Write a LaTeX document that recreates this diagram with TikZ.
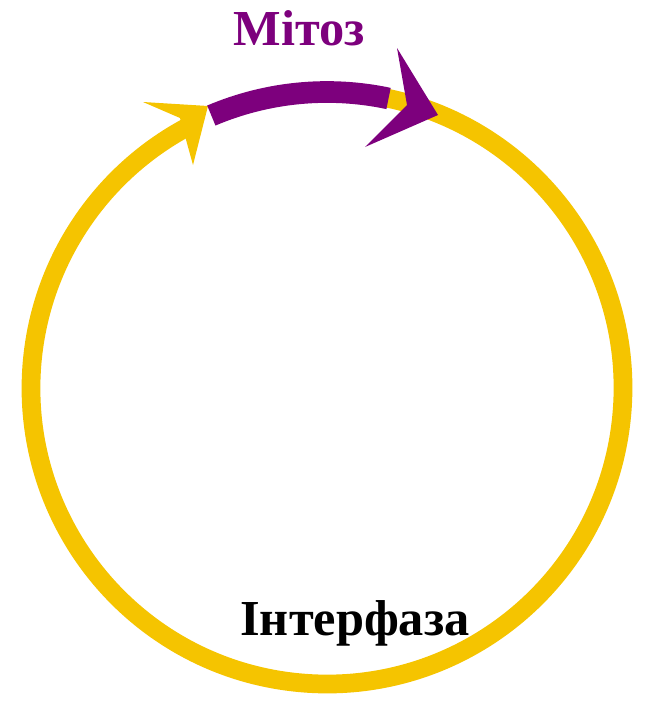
\documentclass[tikz,border=0pt]{standalone}
\usepackage{fontspec}
\setmainfont{Liberation Serif}
\usetikzlibrary{calc}
\definecolor{cycgold}{RGB}{245,196,0}
\definecolor{cycpurple}{RGB}{125,0,125}

\begin{document}
\begin{tikzpicture}[x=0.03cm, y=-0.03cm,
    phase/.style={anchor=base, inner sep=0pt, font=\bfseries\fontsize{43}{43}\selectfont},
    ring/.style={line width=16pt, draw=cycgold},
    band/.style={line width=18.5pt, draw=cycpurple}
  ]
  \useasboundingbox (0,0) rectangle (645,701);
  \coordinate (c) at (327,388);

  % Interphase ring with its head
  \draw[ring] ($(c)+(-85:296)$) arc[start angle=-85, end angle=243, radius=296];
  \fill[cycgold] (143,102) -- (208,106) -- (193,165) -- (180,118) -- cycle;

  % Mitosis band with its head
  \draw[band] ($(c)+(-113:296)$) arc[start angle=-113, end angle=-78, radius=296];
  \fill[cycpurple] (397,48) -- (438,115) -- (365,147) -- (407,105) -- cycle;

  % Labels
  \node[phase, text=cycpurple] (mitoz) at (299,45) {Мітоз};
  \node[phase] (interfaza) at (355,635) {Інтерфаза};
\end{tikzpicture}
\end{document}
